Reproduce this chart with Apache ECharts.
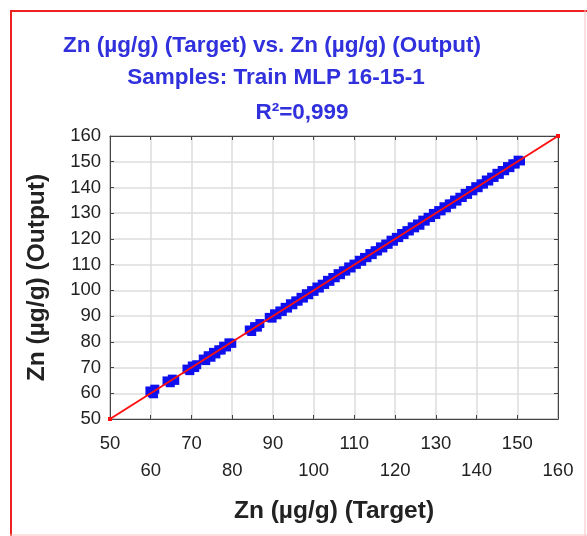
<!DOCTYPE html>
<html>
<head>
<meta charset="utf-8">
<title>Zn Target vs Output</title>
<script src="https://cdn.jsdelivr.net/npm/echarts@6/dist/echarts.min.js"></script>
<style>
  html, body { margin: 0; padding: 0; background: #fff; }
  #chart { width: 587px; height: 536px; }
</style>
</head>
<body>
<div id="chart"></div>
<script>
// axis ticks
var xTicks = [50, 60, 70, 80, 90, 100, 110, 120, 130, 140, 150, 160];
var yTicks = [50, 60, 70, 80, 90, 100, 110, 120, 130, 140, 150, 160];

// Zn target (x) and MLP output (y)
var target = [
  59.8, 60.4, 61.0, 60.7,
  64.0, 64.8, 65.3, 65.9,
  68.9, 69.6, 70.2, 70.8, 71.3,
  72.9, 73.5, 74.1, 74.8, 75.4, 76.0, 76.7, 77.3, 77.9, 78.6, 79.2, 79.9,
  84.2, 84.8, 85.5, 86.2, 86.8,
  89.1, 89.8, 90.4, 91.0, 91.7, 92.3, 93.0, 93.6, 94.3, 94.9, 95.6, 96.2, 96.9, 97.5, 98.2, 98.8,
  99.5, 100.1, 100.8, 101.4, 102.1, 102.7, 103.4, 104.0, 104.7, 105.3, 106.0, 106.6, 107.3, 107.9,
  108.6, 109.2, 109.9, 110.5, 111.2, 111.8, 112.5, 113.1, 113.8, 114.4, 115.1, 115.7, 116.4, 117.0,
  117.7, 118.3, 119.0, 119.6, 120.3, 120.9, 121.6, 122.2, 122.9, 123.5, 124.2, 124.8, 125.5, 126.1,
  126.8, 127.4, 128.1, 128.7, 129.4, 130.0, 130.7, 131.3, 132.0, 132.6, 133.3, 133.9, 134.6, 135.2,
  135.9, 136.5, 137.2, 137.8, 138.5, 139.1, 139.8, 140.4, 141.1, 141.7, 142.4, 143.0, 143.7, 144.3,
  145.0, 145.6, 146.3, 146.9, 147.6, 148.2, 148.9, 149.5, 150.2, 150.8
];
var output = [
  60.9, 60.2, 61.6, 59.8,
  64.8, 64.1, 65.5, 65.0,
  69.4, 68.8, 70.6, 70.0, 71.1,
  73.3, 72.7, 74.6, 74.0, 75.9, 75.3, 76.9, 76.8, 78.3, 78.0, 79.6, 79.4,
  84.6, 84.0, 85.9, 85.7, 87.1,
  89.5, 89.2, 90.9, 90.5, 92.0, 91.8, 93.4, 93.1, 94.8, 94.4, 95.9, 95.8, 97.3, 97.0, 98.7, 98.3,
  99.9, 99.6, 101.3, 100.9, 102.4, 102.3, 103.9, 103.5, 105.0, 104.9, 106.5, 106.1, 107.6, 107.5,
  109.1, 108.7, 110.2, 110.1, 111.7, 111.3, 112.8, 112.7, 114.3, 113.9, 115.4, 115.3, 116.9, 116.5,
  118.0, 117.9, 119.5, 119.1, 120.6, 120.5, 122.1, 121.7, 123.2, 123.1, 124.7, 124.3, 125.8, 125.3,
  127.3, 126.9, 128.4, 128.3, 129.9, 129.5, 131.0, 130.9, 132.5, 132.1, 133.6, 133.5, 135.1, 134.7,
  136.2, 136.1, 137.7, 137.3, 138.8, 138.7, 140.3, 139.9, 141.4, 141.3, 142.9, 142.5, 144.0, 143.9,
  145.5, 145.1, 146.6, 146.5, 148.1, 147.7, 149.2, 149.1, 150.6, 150.3
];
// identity line ends
var fitLine = [[50, 50], [160, 160]];

var points = target.map(function (v, i) { return [v, output[i]]; });

var FONT = '"Liberation Sans", Arial, sans-serif';
var myChart = echarts.init(document.getElementById('chart'));

var titleStyle = { color: '#3030dd', fontSize: 22.5, fontWeight: 'bold', fontFamily: FONT };

var option = {
  animation: false,
  textStyle: { fontFamily: FONT },
  title: [
    { text: 'Zn (µg/g) (Target) vs. Zn (µg/g) (Output)', left: 267, top: 29, textAlign: 'center', textStyle: titleStyle },
    { text: 'Samples: Train MLP 16-15-1', left: 271, top: 61, textAlign: 'center', textStyle: titleStyle },
    { text: 'R²=0,999', left: 297, top: 96, textAlign: 'center', textStyle: titleStyle }
  ],
  graphic: [
    { type: 'line', shape: { x1: 10, y1: 11, x2: 587, y2: 11 }, style: { stroke: '#ee2020', lineWidth: 2 } },
    { type: 'line', shape: { x1: 11, y1: 10, x2: 11, y2: 536 }, style: { stroke: '#ee2020', lineWidth: 2 } },
    { type: 'line', shape: { x1: 585, y1: 10, x2: 585, y2: 536 }, style: { stroke: '#f8c0c0', lineWidth: 1 } },
    { type: 'line', shape: { x1: 10, y1: 535, x2: 587, y2: 535 }, style: { stroke: '#f8c0c0', lineWidth: 1 } }
  ],
  grid: { left: 110, right: 29, top: 136, bottom: 117, show: true, borderColor: '#444', borderWidth: 1 },
  xAxis: [{
    type: 'value', min: xTicks[0], max: xTicks[xTicks.length - 1], interval: 10,
    name: 'Zn (µg/g) (Target)', nameLocation: 'middle', nameGap: 80,
    nameTextStyle: { fontSize: 24.5, fontWeight: 'bold', color: '#222', fontFamily: FONT },
    axisLine: { show: true, lineStyle: { color: '#444' } },
    axisTick: { show: true, inside: true, length: 4, lineStyle: { color: '#444' } },
    axisLabel: {
      color: '#222', fontSize: 18.5, margin: 11, lineHeight: 27,
      formatter: function (v) {
        var i = xTicks.indexOf(v);
        return i % 2 ? '\n' + v : '' + v;
      }
    },
    splitLine: { show: true, lineStyle: { color: '#dcdcdc', width: 1.5 } }
  }, {
    type: 'value', position: 'top', min: xTicks[0], max: xTicks[xTicks.length - 1], interval: 10,
    axisLine: { show: true, lineStyle: { color: '#444' } },
    axisTick: { show: true, inside: true, length: 4, lineStyle: { color: '#444' } },
    axisLabel: { show: false }, splitLine: { show: false }
  }],
  yAxis: [{
    type: 'value', min: yTicks[0], max: yTicks[yTicks.length - 1], interval: 10,
    name: 'Zn (µg/g) (Output)', nameLocation: 'middle', nameGap: 60,
    nameTextStyle: { fontSize: 24.5, fontWeight: 'bold', color: '#222', fontFamily: FONT },
    axisLine: { show: true, lineStyle: { color: '#444' } },
    axisTick: { show: true, inside: true, length: 4, lineStyle: { color: '#444' } },
    axisLabel: { color: '#222', fontSize: 18.5, margin: 9 },
    splitLine: { show: true, lineStyle: { color: '#dcdcdc', width: 1.5 } }
  }, {
    type: 'value', position: 'right', min: yTicks[0], max: yTicks[yTicks.length - 1], interval: 10,
    axisLine: { show: true, lineStyle: { color: '#444' } },
    axisTick: { show: true, inside: true, length: 4, lineStyle: { color: '#444' } },
    axisLabel: { show: false }, splitLine: { show: false }
  }],
  series: [{
    type: 'scatter',
    data: points,
    symbol: 'rect',
    symbolSize: 9,
    itemStyle: { color: '#1010ee', opacity: 1 },
    z: 2
  }, {
    type: 'line',
    data: fitLine,
    symbol: 'rect',
    symbolSize: 4,
    itemStyle: { color: '#ff1010' },
    lineStyle: { color: '#ff1010', width: 2 },
    z: 3
  }]
};

myChart.setOption(option);
</script>
</body>
</html>
